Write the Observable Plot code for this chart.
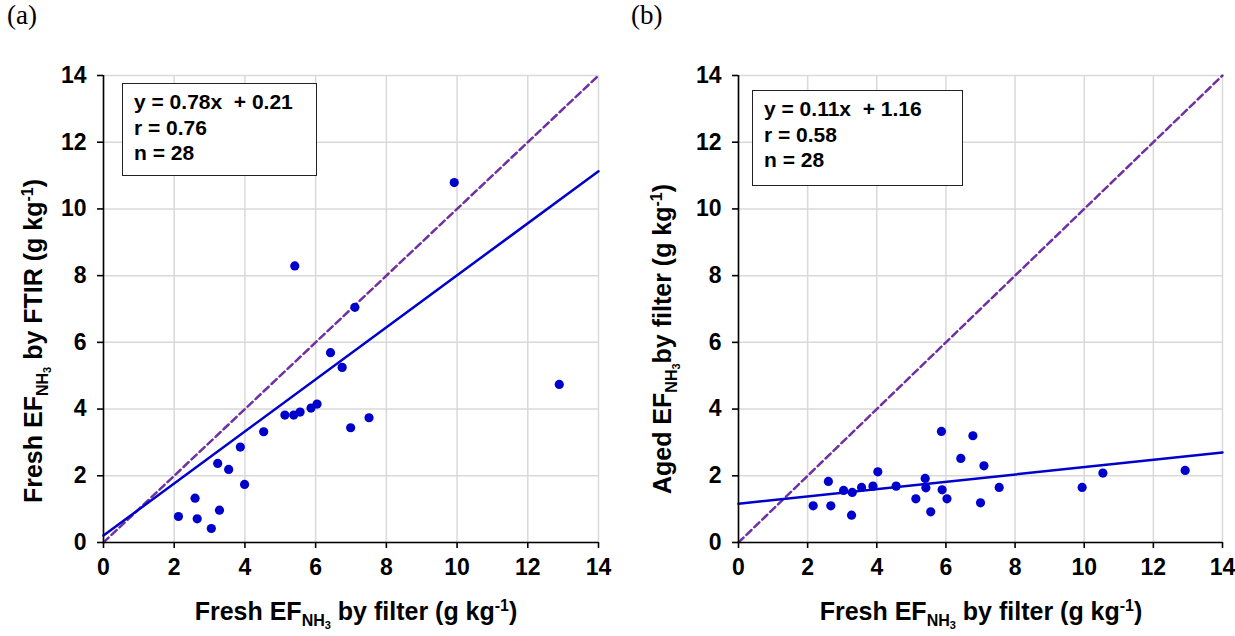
<!DOCTYPE html>
<html>
<head>
<meta charset="utf-8">
<script src="https://cdn.jsdelivr.net/npm/d3@7"></script>
<script src="https://cdn.jsdelivr.net/npm/@observablehq/plot@0.6"></script>
<style>
  html, body { margin: 0; padding: 0; background: #fff; }
  #wrap { position: relative; width: 1235px; height: 636px; overflow: hidden; }
  .panel { position: absolute; top: 0; }
  .tag { position: absolute; font-family: "Liberation Serif", "Times New Roman", serif; font-size: 27px; color: #000; }
  .legend { position: absolute; box-sizing: border-box; border: 1px solid #222; background: #fff;
            font-family: "Liberation Sans", Arial, sans-serif; font-weight: bold; font-size: 21px;
            line-height: 25.5px; padding: 5px 0 0 11px; color: #000; white-space: pre; }
</style>
</head>
<body>
<div id="wrap">
  <div id="pa" class="panel" style="left:0px"></div>
  <div id="pb" class="panel" style="left:617px"></div>
  <div class="tag" style="left:7px;top:0px">(a)</div>
  <div class="tag" style="left:631px;top:0px">(b)</div>
  <div id="lega" class="legend" style="left:122px;top:83px;width:195px;height:93px"></div>
  <div id="legb" class="legend" style="left:752px;top:90px;width:211px;height:96px"></div>
</div>
<script>
// ---- data ----
const axisTicks = [0, 2, 4, 6, 8, 10, 12, 14];
const axisExtent = [0, 14];

// Panel (a): Fresh EF_NH3 by filter vs Fresh EF_NH3 by FTIR
const aFreshFilter = [5.41, 7.11, 6.42, 6.75, 5.13, 5.38, 5.56, 5.87, 6.04, 6.99, 7.51, 4.53, 3.87, 3.23, 3.54, 3.99, 2.59, 2.12, 2.65, 3.28, 3.05, 9.92, 12.89];
const aFreshFTIR   = [8.29, 7.05, 5.69, 5.25, 3.82, 3.82, 3.91, 4.03, 4.15, 3.44, 3.74, 3.32, 2.86, 2.37, 2.19, 1.74, 1.33, 0.78, 0.71, 0.97, 0.42, 10.79, 4.74];
const aFit = {slope: 0.78, intercept: 0.21};
const aLegend = ["y = 0.78x  + 0.21", "r = 0.76", "n = 28"];

// Panel (b): Fresh EF_NH3 by filter vs Aged EF_NH3 by filter
const bFreshFilter = [5.87, 6.78, 6.43, 7.10, 4.03, 5.40, 2.60, 3.04, 3.29, 3.56, 3.89, 4.56, 5.42, 5.89, 6.03, 5.13, 5.56, 2.16, 2.67, 3.27, 7.00, 7.54, 9.94, 10.54, 12.92];
const bAgedFilter  = [3.33, 3.20, 2.52, 2.30, 2.12, 1.92, 1.83, 1.56, 1.50, 1.65, 1.69, 1.69, 1.64, 1.58, 1.31, 1.31, 0.92, 1.10, 1.10, 0.82, 1.19, 1.65, 1.65, 2.08, 2.16];
const bFit = {slope: 0.11, intercept: 1.16};
const bLegend = ["y = 0.11x  + 1.16", "r = 0.58", "n = 28"];

// ---- drawing ----
const BLUE = "#0000CC", PURPLE = "#7030A0", GRID = "#d9d9d9";
const FONT = "'Liberation Sans', Arial, sans-serif";

function panel(xs, ys, fit, opts) {
  const pts = xs.map((x, i) => ({x, y: ys[i]}));
  const oneToOne = axisExtent.map(v => ({x: v, y: v}));
  const fitLine = axisExtent.map(v => ({x: v, y: fit.slope * v + fit.intercept}));
  return Plot.plot({
    width: opts.width, height: 636,
    marginLeft: opts.marginLeft, marginRight: opts.marginRight, marginTop: 75, marginBottom: 94,
    x: {domain: axisExtent},
    y: {domain: axisExtent},
    style: {fontFamily: FONT, fontSize: "23px", fontWeight: "bold", color: "#000", background: "transparent", overflow: "visible"},
    marks: [
      Plot.gridX(axisTicks, {stroke: GRID, strokeOpacity: 1, strokeWidth: 1.5}),
      Plot.gridY(axisTicks, {stroke: GRID, strokeOpacity: 1, strokeWidth: 1.5}),
      Plot.line(oneToOne, {x: "x", y: "y", stroke: PURPLE, strokeWidth: 2.5, strokeDasharray: "7,4"}),
      Plot.line(fitLine, {x: "x", y: "y", stroke: BLUE, strokeWidth: 2.5}),
      Plot.dot(pts, {x: "x", y: "y", r: 4.6, fill: BLUE, stroke: "none"}),
      Plot.ruleX([0], {stroke: "#000", strokeWidth: 1.6}),
      Plot.ruleY([0], {stroke: "#000", strokeWidth: 1.6}),
      Plot.axisX(axisTicks, {tickSize: 6, tickPadding: 10, label: null, strokeWidth: 1.6}),
      Plot.axisY(axisTicks, {tickSize: 6, tickPadding: 11, label: null, strokeWidth: 1.6})
    ]
  });
}

function addLabel(svg, parts, x, y, rotate) {
  const t = d3.select(svg).append("text")
    .attr("text-anchor", "middle")
    .attr("font-family", FONT)
    .attr("font-weight", "bold")
    .attr("font-size", 25)
    .attr("fill", "#000")
    .attr("transform", rotate ? `translate(${x},${y}) rotate(-90)` : `translate(${x},${y})`);
  for (const p of parts) {
    const s = t.append("tspan").text(p.t);
    if (p.size) s.attr("font-size", p.size);
    if (p.dy) s.attr("dy", p.dy);
  }
}

function labelParts(pre, post) {
  return [
    {t: pre},
    {t: "NH", size: 16, dy: 6},
    {t: "3", size: 11, dy: 3},
    {t: post, dy: -9},
    {t: "-1", size: 16, dy: -9},
    {t: ")", dy: 9}
  ];
}

const svgA = panel(aFreshFilter, aFreshFTIR, aFit, {width: 617, marginLeft: 103, marginRight: 19});
const svgB = panel(bFreshFilter, bAgedFilter, bFit, {width: 618, marginLeft: 121, marginRight: 13});
document.getElementById("pa").append(svgA);
document.getElementById("pb").append(svgB);

addLabel(svgA, labelParts("Fresh EF", " by filter (g kg"), 356, 620, false);
addLabel(svgA, labelParts("Fresh EF", " by FTIR (g kg"), 42, 341, true);
addLabel(svgB, labelParts("Fresh EF", " by filter (g kg"), 364, 620, false);
addLabel(svgB, labelParts("Aged EF", "by filter (g kg"), 54, 339, true);

document.getElementById("lega").textContent = aLegend.join("\n");
document.getElementById("legb").textContent = bLegend.join("\n");
</script>
</body>
</html>
